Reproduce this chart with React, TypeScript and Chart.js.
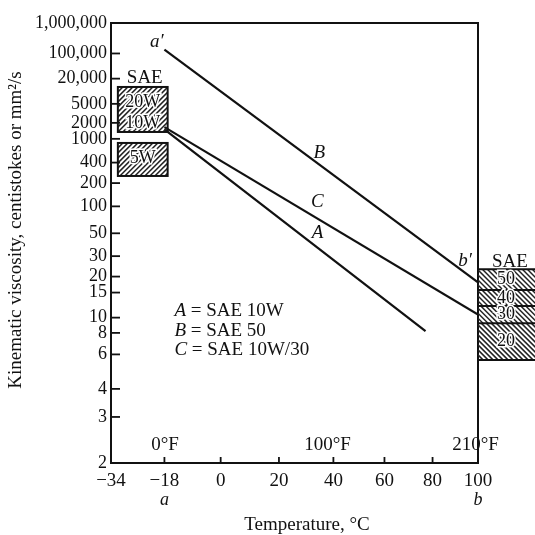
import React, { useEffect, useRef } from 'react';
import { Chart, registerables, LinearScale } from 'chart.js';

Chart.register(...registerables);

// ---- axis ticks ----
const Y_TICKS = [2, 3, 4, 6, 8, 10, 15, 20, 30, 50, 100, 200, 400, 1000, 2000, 5000, 20000, 100000, 1000000];
const Y_TICK_LABELS = ['2', '3', '4', '6', '8', '10', '15', '20', '30', '50', '100', '200', '400', '1000', '2000', '5000', '20,000', '100,000', '1,000,000'];
const X_TICKS = [-34, -18, 0, 20, 40, 60, 80, 100];
const X_TICK_LABELS = ['\u221234', '\u221218', '0', '20', '40', '60', '80', '100'];
const X_SUB_TEMPS = [-18, 100];
const X_SUB_LABELS = ['a', 'b'];
const F_TEMPS = [-17.8, 37.8, 98.9];
const F_LABELS = ['0\u00b0F', '100\u00b0F', '210\u00b0F'];
const F_LABEL_VISC = 2.32;

// ---- oil lines (temperature °C, kinematic viscosity mm²/s) ----
const TEMP_A = [-18, 77];
const VISC_A = [1500, 8.2];
const TEMP_B = [-18, 100];
const VISC_B = [130000, 18];
const TEMP_C = [-18, 100];
const VISC_C = [1650, 10.5];

// ---- line labels ----
const MARK_TEXT = ["a\u2032", 'B', 'C', 'A', "b\u2032"];
const MARK_TEMP = [-20.3, 34.7, 34, 34, 94.2];
const MARK_VISC = [227000, 571, 113, 50.4, 27.1];

// ---- key ----
const KEY_LETTERS = ['A', 'B', 'C'];
const KEY_TEXT = [' = SAE 10W', ' = SAE 50', ' = SAE 10W/30'];
const KEY_TEMP = -14.9;
const KEY_VISC = [11.1, 8.2, 6.35];

// ---- SAE grade boxes ----
const LEFT_BOX_TEMP = [-32, -17];
const LEFT_BOX_TOP = [12360, 845];
const LEFT_BOX_BOTTOM = [1336, 252];
const LEFT_GRADE_TEXT = ['20W', '10W', '5W'];
const LEFT_GRADE_VISC = [5500, 1987, 465];
const LEFT_SAE_VISC = 20800;
const RIGHT_BOUNDS = [23, 15.7, 12.0, 9.2, 5.6];
const RIGHT_GRADES = ['50', '40', '30', '20'];
const RIGHT_SAE_VISC = 26.6;

const FONT = '"Liberation Serif", "DejaVu Serif", serif';

const fVisc = (v: number) => Math.log10(Math.log10(v + 0.7));
const fViscInv = (t: number) => Math.pow(10, Math.pow(10, t)) - 0.7;
const fTemp = (c: number) => Math.log10(c + 273.15);
const fTempInv = (t: number) => Math.pow(10, t) - 273.15;

class TransformScale extends (LinearScale as any) {
  fwd(v: number) { return v; }
  inv(t: number) { return t; }
  tickList(): number[] { return []; }
  buildTicks() {
    return this.tickList().map((value: number) => ({ value }));
  }
  configure() {
    super.configure();
    this._tStart = this.fwd(this.min);
    this._tRange = this.fwd(this.max) - this._tStart;
  }
  getPixelForValue(value: number) {
    if (value === null || value === undefined || isNaN(value)) return NaN;
    return this.getPixelForDecimal((this.fwd(value) - this._tStart) / this._tRange);
  }
  getValueForPixel(pixel: number) {
    return this.inv(this._tStart + this.getDecimalForPixel(pixel) * this._tRange);
  }
}

class ViscosityScale extends TransformScale {
  static id = 'viscosity';
  fwd(v: number) { return fVisc(v); }
  inv(t: number) { return fViscInv(t); }
  tickList() { return Y_TICKS; }
}

class TemperatureScale extends TransformScale {
  static id = 'temperature';
  fwd(v: number) { return fTemp(v); }
  inv(t: number) { return fTempInv(t); }
  tickList() { return X_TICKS; }
}

Chart.register(ViscosityScale as any, TemperatureScale as any);

function pts(t: number[], v: number[]) {
  return t.map((x, i) => ({ x, y: v[i] }));
}

function hatch(ctx: CanvasRenderingContext2D, x0: number, y0: number, x1: number, y1: number, dir: number, spacing: number) {
  ctx.save();
  ctx.beginPath();
  ctx.rect(x0, y0, x1 - x0, y1 - y0);
  ctx.clip();
  ctx.strokeStyle = '#222';
  ctx.lineWidth = 1.5;
  const h = y1 - y0;
  const w = x1 - x0;
  for (let s = -h; s < w + h; s += spacing) {
    ctx.beginPath();
    if (dir > 0) {
      ctx.moveTo(x0 + s, y1);
      ctx.lineTo(x0 + s + h, y0);
    } else {
      ctx.moveTo(x0 + s, y0);
      ctx.lineTo(x0 + s + h, y1);
    }
    ctx.stroke();
  }
  ctx.restore();
}

function haloText(ctx: CanvasRenderingContext2D, text: string, x: number, y: number) {
  ctx.save();
  ctx.lineWidth = 3;
  ctx.strokeStyle = '#fff';
  ctx.strokeText(text, x, y);
  ctx.fillStyle = '#111';
  ctx.fillText(text, x, y);
  ctx.restore();
}

const annotPlugin = {
  id: 'annot',
  afterDatasetsDraw(chart: any) {
    const { ctx, chartArea: ca, scales } = chart;
    const X = (t: number) => scales.x.getPixelForValue(t);
    const Y = (v: number) => scales.y.getPixelForValue(v);
    const line = (a: number, b: number, c: number, d: number) => {
      ctx.beginPath();
      ctx.moveTo(a, b);
      ctx.lineTo(c, d);
      ctx.stroke();
    };
    ctx.save();
    ctx.strokeStyle = '#111';
    ctx.fillStyle = '#111';

    // frame
    ctx.lineWidth = 2;
    ctx.strokeRect(ca.left, ca.top, ca.right - ca.left, ca.bottom - ca.top);

    // inward ticks
    ctx.lineWidth = 1.8;
    Y_TICKS.forEach((v) => {
      const y = Y(v);
      line(ca.left, y, ca.left + 9, y);
    });
    X_TICKS.forEach((t, i) => {
      if (i === 0) return;
      const x = X(t);
      line(x, ca.bottom, x, ca.bottom - 6);
    });

    // Fahrenheit labels
    ctx.font = `19px ${FONT}`;
    ctx.textAlign = 'center';
    ctx.textBaseline = 'middle';
    F_TEMPS.forEach((t, i) => ctx.fillText(F_LABELS[i], X(t), Y(F_LABEL_VISC)));

    // sub labels a, b
    ctx.font = `italic 18px ${FONT}`;
    X_SUB_TEMPS.forEach((t, i) => ctx.fillText(X_SUB_LABELS[i], X(t), ca.bottom + 37));

    // line markers
    ctx.font = `italic 19px ${FONT}`;
    MARK_TEXT.forEach((m, i) => ctx.fillText(m, X(MARK_TEMP[i]), Y(MARK_VISC[i])));

    // key
    ctx.textAlign = 'left';
    KEY_LETTERS.forEach((l, i) => {
      const x0 = X(KEY_TEMP);
      const y0 = Y(KEY_VISC[i]);
      ctx.font = `italic 19px ${FONT}`;
      ctx.fillText(l, x0, y0);
      const w = ctx.measureText(l).width;
      ctx.font = `19px ${FONT}`;
      ctx.fillText(KEY_TEXT[i], x0 + w, y0);
    });

    // left SAE boxes
    ctx.textAlign = 'center';
    const lx0 = X(LEFT_BOX_TEMP[0]);
    const lx1 = X(LEFT_BOX_TEMP[1]);
    ctx.font = `19px ${FONT}`;
    ctx.fillText('SAE', (lx0 + lx1) / 2 + 2, Y(LEFT_SAE_VISC));
    LEFT_BOX_TOP.forEach((top, i) => {
      const y0 = Y(top);
      const y1 = Y(LEFT_BOX_BOTTOM[i]);
      hatch(ctx, lx0, y0, lx1, y1, 1, 5);
      ctx.lineWidth = 2;
      ctx.strokeStyle = '#111';
      ctx.strokeRect(lx0, y0, lx1 - lx0, y1 - y0);
    });
    ctx.font = `18px ${FONT}`;
    LEFT_GRADE_TEXT.forEach((g, i) => haloText(ctx, g, (lx0 + lx1) / 2, Y(LEFT_GRADE_VISC[i])));

    // right SAE boxes
    const rx0 = ca.right;
    const rx1 = chart.width;
    ctx.font = `19px ${FONT}`;
    ctx.fillText('SAE', rx0 + 32, Y(RIGHT_SAE_VISC));
    RIGHT_GRADES.forEach((g, i) => {
      const y0 = Y(RIGHT_BOUNDS[i]);
      const y1 = Y(RIGHT_BOUNDS[i + 1]);
      hatch(ctx, rx0, y0, rx1, y1, -1, 5);
    });
    ctx.lineWidth = 2;
    ctx.strokeStyle = '#111';
    RIGHT_BOUNDS.forEach((b) => line(rx0, Y(b), rx1, Y(b)));
    ctx.font = `18px ${FONT}`;
    RIGHT_GRADES.forEach((g, i) => {
      const ym = scales.y.getPixelForValue(fViscInv((fVisc(RIGHT_BOUNDS[i]) + fVisc(RIGHT_BOUNDS[i + 1])) / 2));
      haloText(ctx, g, rx0 + 28, ym);
    });

    // axis titles
    ctx.fillStyle = '#111';
    ctx.font = `19px ${FONT}`;
    ctx.textAlign = 'center';
    ctx.fillText('Temperature, \u00b0C', 307, ca.bottom + 62);
    ctx.save();
    ctx.translate(16, 230);
    ctx.rotate(-Math.PI / 2);
    ctx.fillText('Kinematic viscosity, centistokes or mm\u00b2/s', 0, 0);
    ctx.restore();

    ctx.restore();
  },
};

export default function App() {
  const ref = useRef<HTMLCanvasElement>(null);
  useEffect(() => {
    const chart = new Chart(ref.current as HTMLCanvasElement, {
      type: 'scatter',
      data: {
        datasets: [
          { label: 'A', data: pts(TEMP_A, VISC_A) },
          { label: 'B', data: pts(TEMP_B, VISC_B) },
          { label: 'C', data: pts(TEMP_C, VISC_C) },
        ].map((d) => ({
          ...d,
          showLine: true,
          borderColor: '#111',
          backgroundColor: '#111',
          borderWidth: 2.2,
          pointRadius: 0,
          pointHoverRadius: 0,
        })),
      },
      options: {
        animation: false,
        responsive: true,
        maintainAspectRatio: false,
        events: [],
        layout: { padding: { top: 23, right: 57, left: 0, bottom: 0 } },
        plugins: {
          legend: { display: false },
          tooltip: { enabled: false },
          title: { display: false },
        },
        scales: {
          x: {
            type: 'temperature' as any,
            min: -34,
            max: 100,
            grid: { display: false, drawTicks: false },
            border: { display: false },
            ticks: {
              autoSkip: false,
              maxRotation: 0,
              minRotation: 0,
              padding: 7,
              color: '#111',
              font: { family: FONT, size: 19 },
              callback: (_v: any, i: number) => X_TICK_LABELS[i],
            },
            afterFit: (s: any) => { s.height = 72; },
          },
          y: {
            type: 'viscosity' as any,
            min: 2,
            max: 1000000,
            grid: { display: false, drawTicks: false },
            border: { display: false },
            ticks: {
              autoSkip: false,
              padding: 4,
              color: '#111',
              font: { family: FONT, size: 18 },
              callback: (_v: any, i: number) => Y_TICK_LABELS[i],
            },
            afterFit: (s: any) => { s.width = 111; },
          },
        },
      } as any,
      plugins: [annotPlugin],
    });
    return () => chart.destroy();
  }, []);
  return (
    <div style={{ position: 'fixed', left: 0, top: 0, width: 535, height: 535, background: '#fff' }}>
      <canvas ref={ref} />
    </div>
  );
}
